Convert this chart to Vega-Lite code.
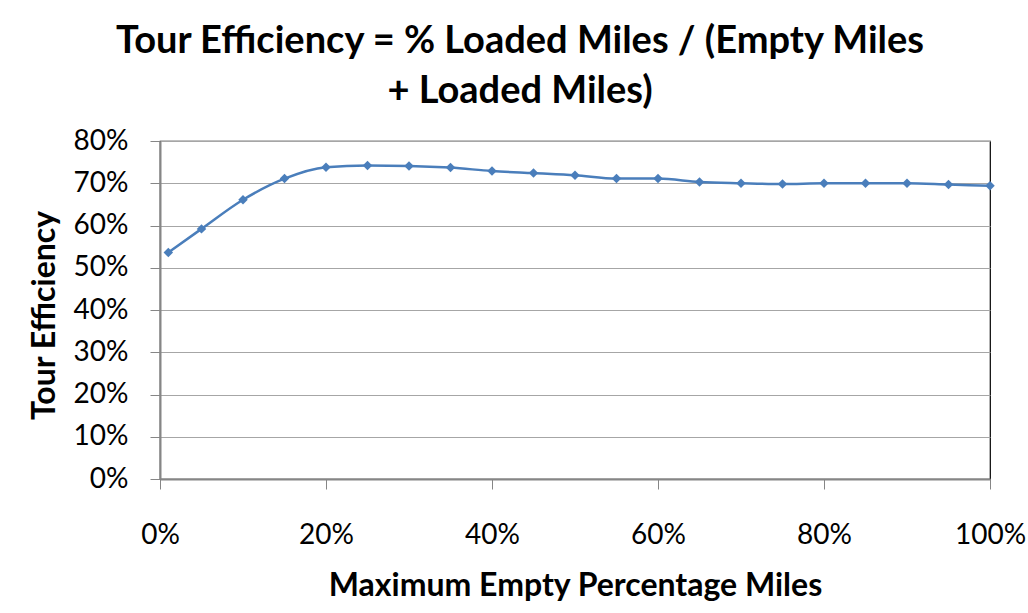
{
  "$schema": "https://vega.github.io/schema/vega-lite/v6.json",
  "width": 830,
  "height": 338,
  "autosize": {"type": "none"},
  "padding": {"left": 160, "top": 141, "right": 38, "bottom": 134},
  "background": "white",
  "title": {
    "text": ["Tour Efficiency = % Loaded Miles / (Empty Miles", "+ Loaded Miles)"],
    "font": "Lato",
    "fontSize": 38,
    "fontWeight": "bold",
    "color": "#000000",
    "anchor": "middle",
    "dx": -55,
    "offset": 16,
    "lineHeight": 50
  },
  "config": {
    "view": {"stroke": "#000000", "strokeWidth": 1.2},
    "font": "Lato"
  },
  "data": {
    "values": [
      {"empty": 0.01, "eff": 0.536},
      {"empty": 0.05, "eff": 0.592},
      {"empty": 0.10, "eff": 0.661},
      {"empty": 0.15, "eff": 0.711},
      {"empty": 0.20, "eff": 0.738},
      {"empty": 0.25, "eff": 0.742},
      {"empty": 0.30, "eff": 0.741},
      {"empty": 0.35, "eff": 0.737},
      {"empty": 0.40, "eff": 0.729},
      {"empty": 0.45, "eff": 0.724},
      {"empty": 0.50, "eff": 0.719},
      {"empty": 0.55, "eff": 0.711},
      {"empty": 0.60, "eff": 0.711},
      {"empty": 0.65, "eff": 0.703},
      {"empty": 0.70, "eff": 0.700},
      {"empty": 0.75, "eff": 0.698},
      {"empty": 0.80, "eff": 0.700},
      {"empty": 0.85, "eff": 0.700},
      {"empty": 0.90, "eff": 0.700},
      {"empty": 0.95, "eff": 0.697},
      {"empty": 1.00, "eff": 0.694}
    ]
  },
  "encoding": {
    "x": {
      "field": "empty",
      "type": "quantitative",
      "scale": {"domain": [0, 1], "nice": false},
      "axis": {
        "title": "Maximum Empty Percentage Miles",
        "format": "%",
        "values": [0, 0.2, 0.4, 0.6, 0.8, 1],
        "grid": false,
        "domainColor": "#868686",
        "domainWidth": 2,
        "tickColor": "#868686",
        "tickWidth": 1,
        "tickSize": 10,
        "labelFont": "Lato",
        "labelFontSize": 28,
        "labelColor": "#000000",
        "labelPadding": 32,
        "labelFlush": false,
        "titleFont": "Lato",
        "titleFontSize": 32,
        "titleFontWeight": "bold",
        "titleColor": "#000000",
        "titleBaseline": "alphabetic",
        "titleY": 116
      }
    },
    "y": {
      "field": "eff",
      "type": "quantitative",
      "scale": {"domain": [0, 0.8], "nice": false},
      "axis": {
        "title": "Tour Efficiency",
        "format": "%",
        "values": [0, 0.1, 0.2, 0.3, 0.4, 0.5, 0.6, 0.7, 0.8],
        "grid": true,
        "gridColor": "#a6a6a6",
        "gridWidth": 1.2,
        "domainColor": "#868686",
        "domainWidth": 2,
        "tickColor": "#868686",
        "tickWidth": 1,
        "tickSize": 10,
        "labelFont": "Lato",
        "labelFontSize": 28,
        "labelColor": "#000000",
        "labelPadding": 22,
        "titleFont": "Lato",
        "titleFontSize": 32,
        "titleFontWeight": "bold",
        "titleColor": "#000000",
        "titleAngle": -90,
        "titleAlign": "center",
        "titleBaseline": "middle",
        "titleX": -116,
        "titleY": 174
      }
    }
  },
  "layer": [
    {
      "mark": {"type": "line", "interpolate": "monotone", "color": "#4a7ebb", "strokeWidth": 2.5}
    },
    {
      "mark": {"type": "point", "shape": "diamond", "filled": true, "color": "#4a7ebb", "size": 90, "opacity": 1}
    }
  ]
}
